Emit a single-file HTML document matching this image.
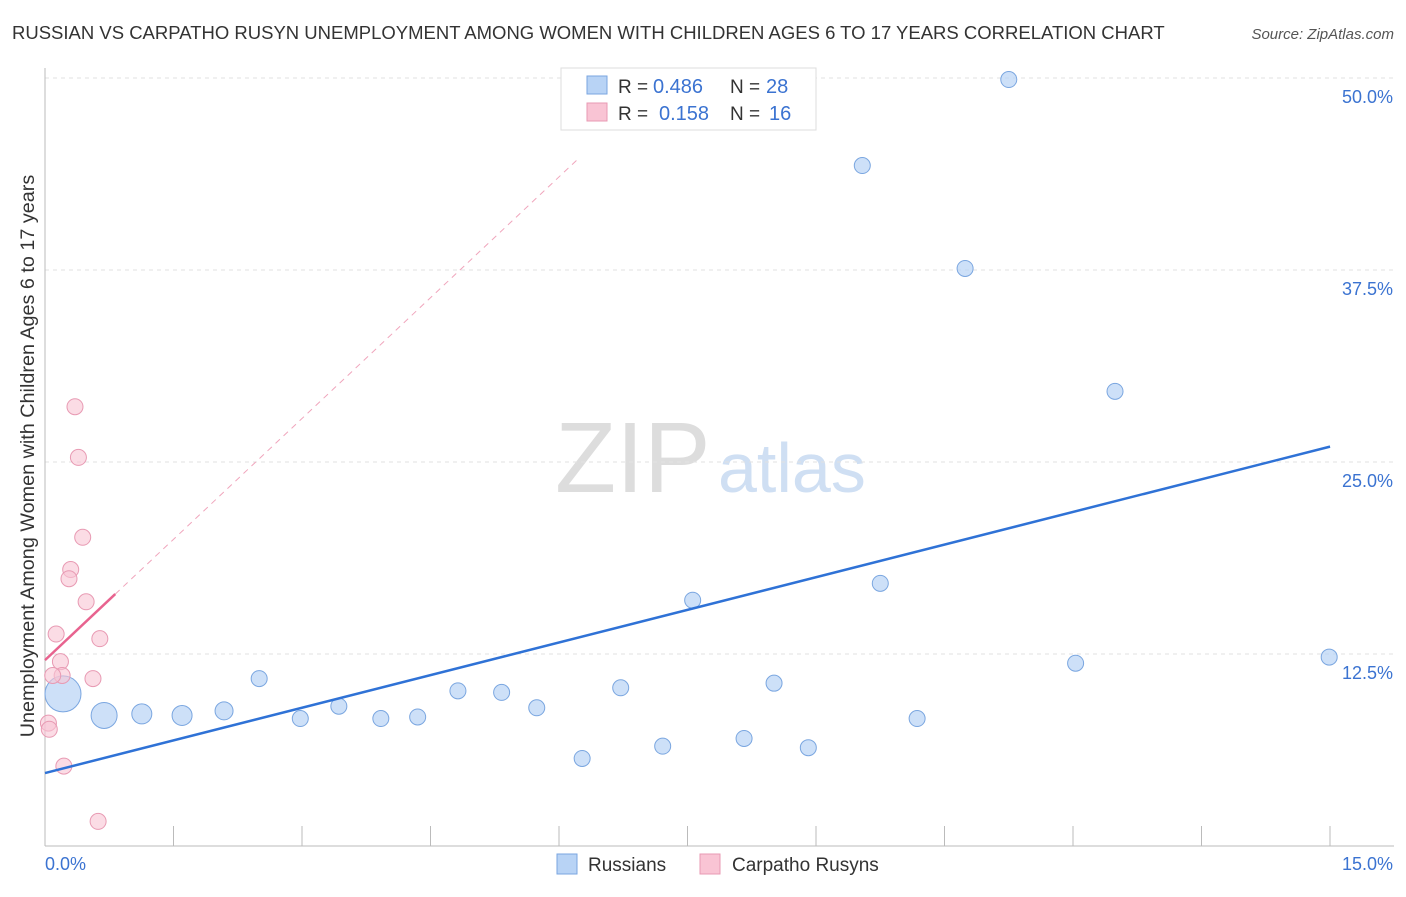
<!DOCTYPE html>
<html><head><meta charset="utf-8"><style>
body{margin:0;background:#fff;font-family:"Liberation Sans",sans-serif;}
svg text{font-family:"Liberation Sans",sans-serif;}
</style></head><body>
<svg id="chart" width="1406" height="892">
<text x="12" y="39" font-size="18.5" fill="#333">RUSSIAN VS CARPATHO RUSYN UNEMPLOYMENT AMONG WOMEN WITH CHILDREN AGES 6 TO 17 YEARS CORRELATION CHART</text>
<text x="1394" y="39" font-size="15" fill="#555" font-style="italic" text-anchor="end">Source: ZipAtlas.com</text>
<text x="34" y="456" font-size="19.8" fill="#333" text-anchor="middle" transform="rotate(-90 34 456)">Unemployment Among Women with Children Ages 6 to 17 years</text>
<text x="555" y="492" font-size="100" fill="#ddd" font-family="Liberation Serif">ZIP</text>
<text x="718" y="492" font-size="70" fill="#cfdff3">atlas</text>
<g id="grid"></g><g id="marks"></g>
<g>
<rect x="561" y="68" width="255" height="62" fill="#fff" stroke="#ddd"/>
<rect x="587" y="76" width="20" height="18" fill="#b8d3f5" stroke="#7aa6e0"/>
<rect x="587" y="103" width="20" height="18" fill="#f9c4d4" stroke="#e89ab3"/>
<text x="618" y="93" font-size="19" fill="#333">R =</text>
<text x="653" y="93" font-size="20" fill="#3b73d1">0.486</text>
<text x="730" y="93" font-size="19" fill="#333">N =</text>
<text x="766" y="93" font-size="20" fill="#3b73d1">28</text>
<text x="618" y="120" font-size="19" fill="#333">R =</text>
<text x="659" y="120" font-size="20" fill="#3b73d1">0.158</text>
<text x="730" y="120" font-size="19" fill="#333">N =</text>
<text x="769" y="120" font-size="20" fill="#3b73d1">16</text>
</g>
<g>
<rect x="557" y="854" width="20" height="20" fill="#b8d3f5" stroke="#7aa6e0"/>
<text x="588" y="871" font-size="19" fill="#333">Russians</text>
<rect x="700" y="854" width="20" height="20" fill="#f9c4d4" stroke="#e89ab3"/>
<text x="732" y="871" font-size="19" fill="#333">Carpatho Rusyns</text>
</g>
</svg>
<script>
const yTicks=[12.5,25,37.5,50];
const yTickLabels=["12.5%","25.0%","37.5%","50.0%"];
const xTickLabels=["0.0%","15.0%"];
const russX=[0.21,0.69,1.13,1.6,2.09,2.5,2.98,3.43,3.92,4.35,4.82,5.33,5.74,6.27,6.72,7.21,7.56,8.16,8.51,8.91,9.54,9.75,10.18,10.74,11.25,12.03,12.49,14.99];
const russY=[9.9,8.5,8.6,8.5,8.8,10.9,8.3,9.1,8.3,8.4,10.1,10.0,9.0,5.7,10.3,6.5,16.0,7.0,10.6,6.4,44.3,17.1,8.3,37.6,49.9,11.9,29.6,12.3];
const russR=[18,13,10,10,9,8,8,8,8,8,8,8,8,8,8,8,8,8,8,8,8,8,8,8,8,8,8,8];
const rusX=[0.35,0.39,0.44,0.30,0.28,0.48,0.13,0.64,0.18,0.2,0.09,0.56,0.04,0.05,0.22,0.62];
const rusY=[28.6,25.3,20.1,18.0,17.4,15.9,13.8,13.5,12.0,11.1,11.1,10.9,8.0,7.6,5.2,1.6];
const russTrend=[4.75,26.0];
const rusTrend=[12.1,16.4,0.82];
const X=v=>45+v*85.67, Y=v=>846-v*15.36;
const NS="http://www.w3.org/2000/svg";
function mk(t,a,p){const e=document.createElementNS(NS,t);for(const k in a)e.setAttribute(k,a[k]);p.appendChild(e);return e;}
const g=document.getElementById('grid'), m=document.getElementById('marks');
yTicks.forEach((t,i)=>{
 const l=mk('line',{x1:45,x2:1394,y1:Y(t),y2:Y(t),stroke:'#e2e2e2','stroke-dasharray':'4 4'},g);
 
 
 const tx=mk('text',{x:1393,y:Y(t)+25,'font-size':18,fill:'#3b73d1','text-anchor':'end'},g);
 tx.textContent=yTickLabels[i];
 
 
});
const ax=mk('line',{x1:45,x2:1394,y1:846,y2:846,stroke:'#bbb'},g);


const ay=mk('line',{x1:45,x2:45,y1:68,y2:846,stroke:'#bbb'},g);


for(let i=1;i<=10;i++){const t=mk('line',{x1:45+i*128.5,x2:45+i*128.5,y1:826,y2:846,stroke:'#bbb'},g);
 
 }
[[0,'start',45],[15,'end',1393]].forEach((d,i)=>{const t=mk('text',{x:d[2],y:870,'font-size':18,fill:'#3b73d1','text-anchor':d[1]},g);t.textContent=xTickLabels[i];
 
 });
russX.forEach((x,i)=>{const c=mk('circle',{cx:X(x),cy:Y(russY[i]),r:russR[i],fill:'rgba(184,211,245,0.7)',stroke:'#7aa6e0','stroke-width':1},m);
 
 });
rusX.forEach((x,i)=>{const c=mk('circle',{cx:X(x),cy:Y(rusY[i]),r:8,fill:'rgba(249,196,212,0.6)',stroke:'#e89ab3','stroke-width':1},m);
 
 });
const bl=mk('line',{x1:X(0),y1:Y(russTrend[0]),x2:X(15),y2:Y(russTrend[1]),stroke:'#2f72d6','stroke-width':2.5},m);


const slope=(rusTrend[1]-rusTrend[0])/rusTrend[2];
const yEnd=44.8;
const xe=(yEnd-rusTrend[0])/slope;
const pd=mk('line',{x1:X(rusTrend[2]),y1:Y(rusTrend[1]),x2:X(xe),y2:Y(yEnd),stroke:'#f0a5bc','stroke-width':1,'stroke-dasharray':'6 5'},m);


const pl=mk('line',{x1:X(0),y1:Y(rusTrend[0]),x2:X(rusTrend[2]),y2:Y(rusTrend[1]),stroke:'#e8638f','stroke-width':2.5},m);


</script>
</body></html>
